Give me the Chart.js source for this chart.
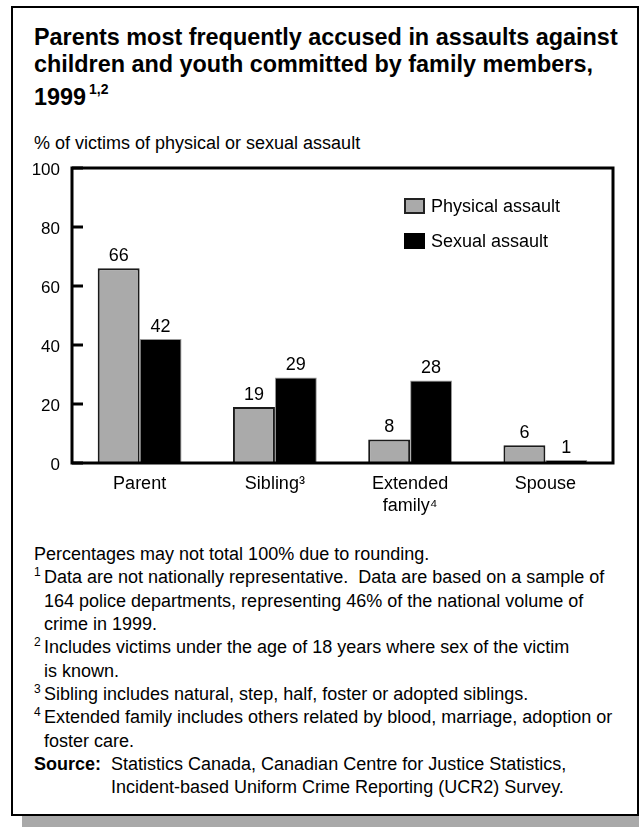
<!DOCTYPE html>
<html>
<head>
<meta charset="utf-8">
<script src="https://cdn.jsdelivr.net/npm/chart.js@4/dist/chart.umd.min.js"></script>
<style>
  html, body { margin: 0; padding: 0; background: #fff; }
  body { width: 639px; height: 827px; position: relative; overflow: hidden;
         font-family: "Liberation Sans", Arial, Helvetica, sans-serif; color: #000; }
  #frame { position: absolute; left: 11px; top: 6px; width: 628px; height: 810px;
           box-sizing: border-box; border: 2px solid #000; background: #fff;
           box-shadow: 11px 11px 0 #a9a9a9; }
  #title { position: absolute; left: 34px; top: 24px; font-size: 23.4px; font-weight: bold;
           line-height: 27px; white-space: nowrap; }
  #title sup { font-size: 14px; position: relative; top: -2px; margin-left: 3px; }
  #ylabel { position: absolute; left: 34px; top: 132px; font-size: 18px; line-height: 22px; white-space: nowrap; }
  #chartwrap { position: absolute; left: 0; top: 150px; width: 639px; height: 380px; }
  #chartwrap canvas { display: block; }
  .fn { position: absolute; left: 34px; font-size: 18px; line-height: 23.3px; white-space: nowrap; }
  .fn .m { position: absolute; left: 0; font-size: 12px; top: -5px; }
  .fn .t { position: absolute; left: 10px; }
</style>
</head>
<body>
<div id="frame"></div>
<div id="title">Parents most frequently accused in assaults against<br>children and youth committed by family members,<br>1999<sup>1,2</sup></div>
<div id="ylabel">% of victims of physical or sexual assault</div>
<div id="chartwrap"><canvas id="c" width="639" height="380"></canvas></div>

<div class="fn" style="top:543px">Percentages may not total 100% due to rounding.</div>
<div class="fn" style="top:566px"><span class="m">1</span><span class="t">Data are not nationally representative.&nbsp; Data are based on a sample of</span></div>
<div class="fn" style="top:590px"><span class="t">164 police departments, representing 46% of the national volume of</span></div>
<div class="fn" style="top:613px"><span class="t">crime in 1999.</span></div>
<div class="fn" style="top:636px"><span class="m">2</span><span class="t">Includes victims under the age of 18 years where sex of the victim</span></div>
<div class="fn" style="top:660px"><span class="t">is known.</span></div>
<div class="fn" style="top:683px"><span class="m">3</span><span class="t">Sibling includes natural, step, half, foster or adopted siblings.</span></div>
<div class="fn" style="top:706px"><span class="m">4</span><span class="t">Extended family includes others related by blood, marriage, adoption or</span></div>
<div class="fn" style="top:730px"><span class="t">foster care.</span></div>
<div class="fn" style="top:753px"><b>Source:</b></div>
<div class="fn" style="top:753px; left:111px">Statistics Canada, Canadian Centre for Justice Statistics,</div>
<div class="fn" style="top:776px; left:111px">Incident-based Uniform Crime Reporting (UCR2) Survey.</div>

<script>
const categories = ['Parent', 'Sibling³', ['Extended', 'family⁴'], 'Spouse'];
const seriesNames = ['Physical assault', 'Sexual assault'];
const physical = [66, 19, 8, 6];
const sexual = [42, 29, 28, 1];
const yTicks = [0, 20, 40, 60, 80, 100];

const FONT = '"Liberation Sans", Arial, Helvetica, sans-serif';
const GRAY = '#aaaaaa';

const boxPlugin = {
  id: 'boxPlugin',
  afterDatasetsDraw(chart) {
    const ctx = chart.ctx;
    const a = chart.chartArea;
    const ys = chart.scales.y;
    ctx.save();
    ctx.font = '18px ' + FONT;
    ctx.fillStyle = '#000';
    ctx.textAlign = 'center';
    ctx.textBaseline = 'alphabetic';
    chart.data.datasets.forEach((ds, di) => {
      chart.getDatasetMeta(di).data.forEach((bar, i) => {
        ctx.fillText(String(ds.data[i]), bar.x, bar.y - 7);
      });
    });
    ctx.strokeStyle = '#000';
    ctx.lineWidth = 3;
    ctx.strokeRect(a.left, a.top, a.right - a.left, a.bottom - a.top);
    yTicks.forEach(v => {
      const y = ys.getPixelForValue(v);
      ctx.beginPath();
      ctx.moveTo(a.left, y);
      ctx.lineTo(a.left + 11, y);
      ctx.stroke();
    });
    const lx = a.left + 332, ly = a.top + 30;
    const colors = [GRAY, '#000'];
    seriesNames.forEach((name, k) => {
      const by = ly + k * 35;
      ctx.fillStyle = colors[k];
      ctx.fillRect(lx, by, 21, 16);
      if (k === 0) {
        ctx.lineWidth = 2;
        ctx.strokeStyle = '#222';
        ctx.strokeRect(lx + 1, by + 1, 19, 14);
      }
      ctx.fillStyle = '#000';
      ctx.textAlign = 'left';
      ctx.font = '18px ' + FONT;
      ctx.fillText(name, lx + 27, by + 14);
    });
    ctx.restore();
  }
};

new Chart(document.getElementById('c'), {
  type: 'bar',
  data: {
    labels: categories,
    datasets: [
      { label: seriesNames[0], data: physical, backgroundColor: GRAY, borderColor: '#1a1a1a', borderWidth: 2,
        categoryPercentage: 0.62, barPercentage: 1 },
      { label: seriesNames[1], data: sexual, backgroundColor: '#000', borderColor: '#999', borderWidth: 1,
        categoryPercentage: 0.62, barPercentage: 1 }
    ]
  },
  options: {
    responsive: false,
    devicePixelRatio: 1,
    animation: false,
    layout: { padding: { left: 0, right: 26, top: 18, bottom: 0 } },
    plugins: { legend: { display: false }, tooltip: { enabled: false } },
    scales: {
      y: {
        min: 0, max: 100,
        afterBuildTicks(scale) { scale.ticks = yTicks.map(v => ({ value: v })); },
        afterFit(scale) { scale.width = 72; scale.paddingTop = 0; scale.paddingBottom = 0; },
        grid: { display: false, drawTicks: false },
        border: { display: false },
        ticks: { color: '#000', padding: 12, labelOffset: 2, font: { family: FONT, size: 17 } }
      },
      x: {
        afterFit(scale) { scale.height = 67; scale.paddingLeft = 0; scale.paddingRight = 0; },
        grid: { display: false, drawTicks: false },
        border: { display: false },
        ticks: { color: '#000', padding: 10, maxRotation: 0, autoSkip: false,
                 font: { family: FONT, size: 18, lineHeight: 1.22 } }
      }
    }
  },
  plugins: [boxPlugin]
});
</script>
</body>
</html>
